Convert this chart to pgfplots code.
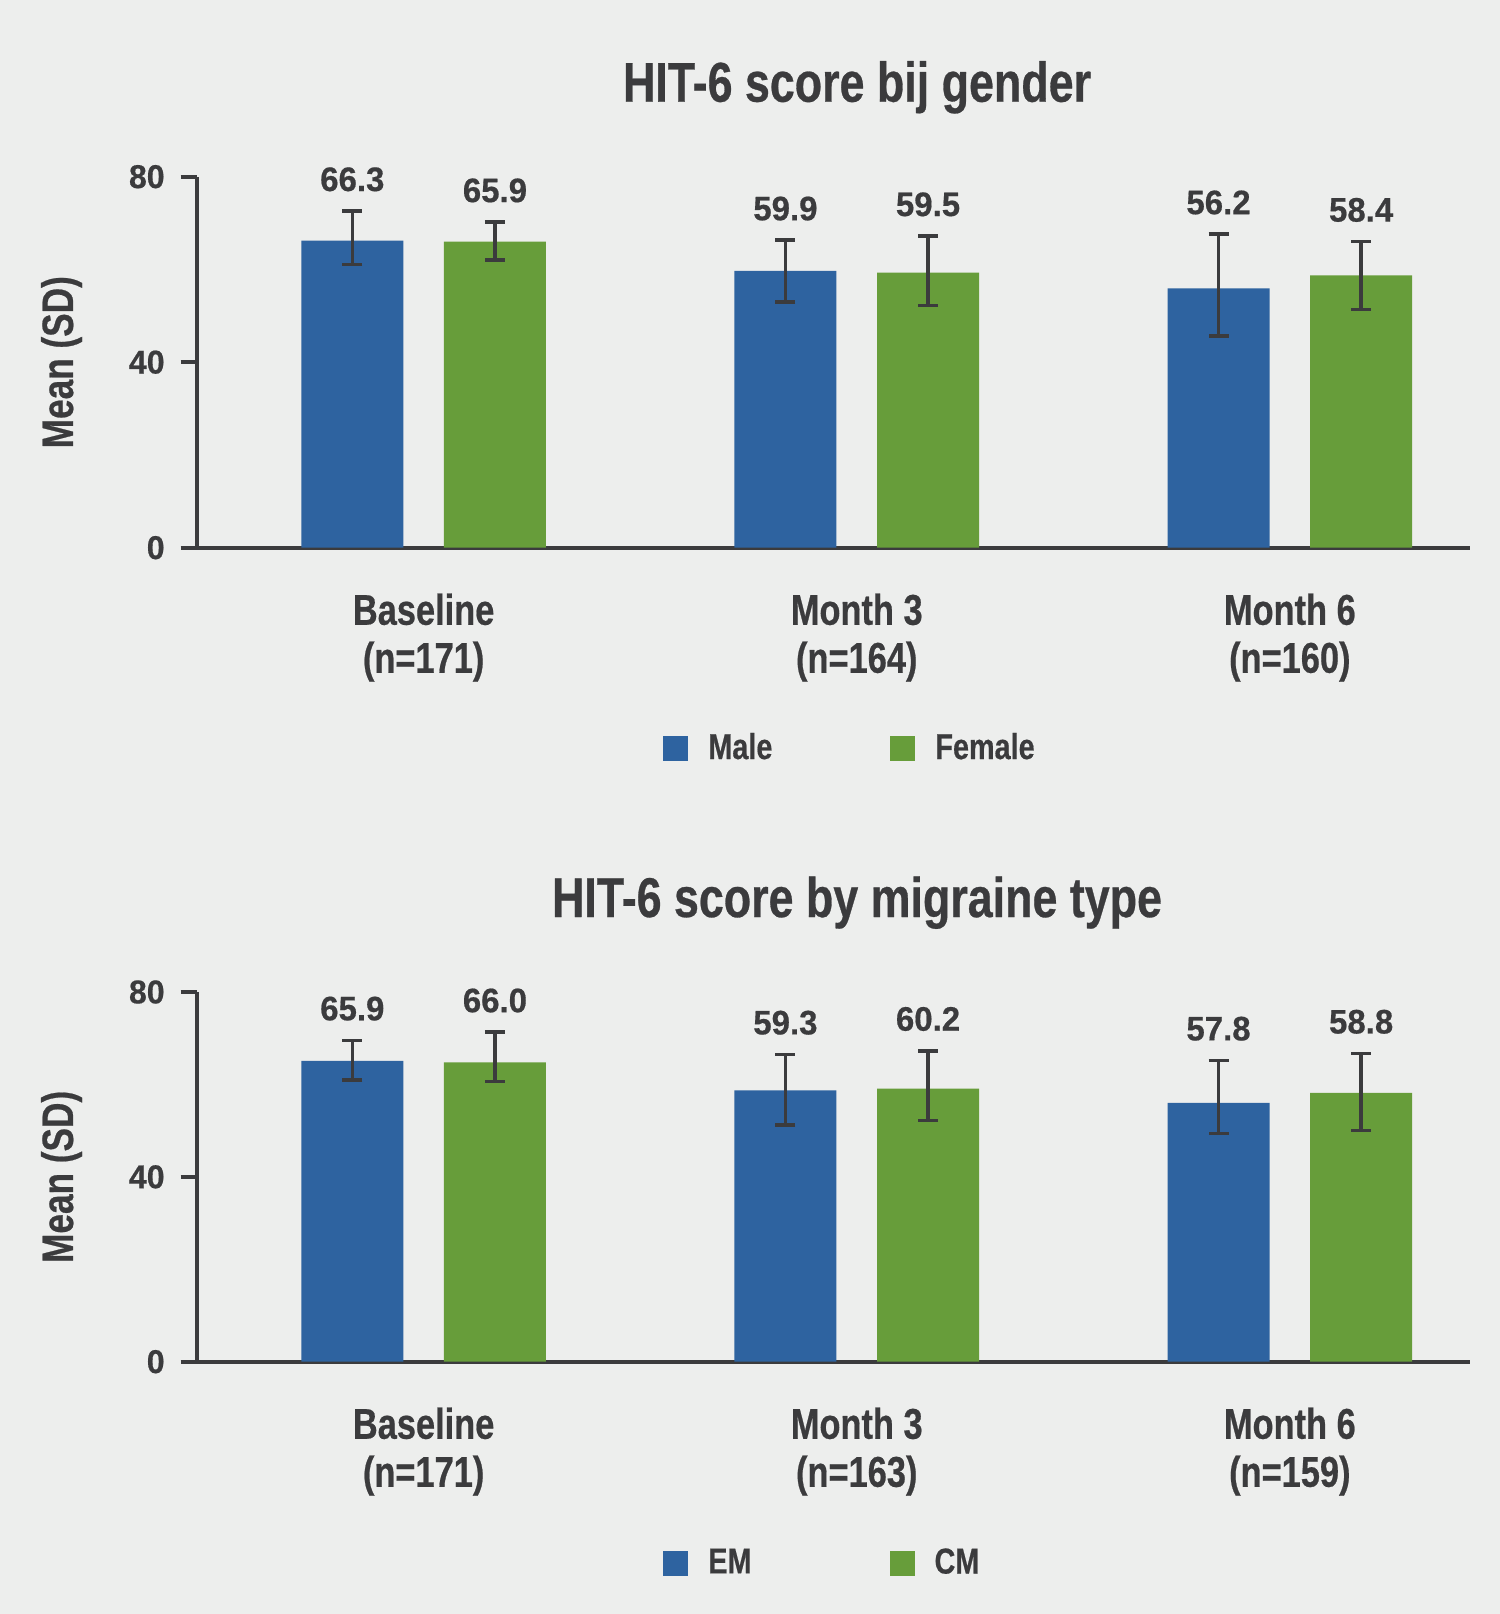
\documentclass[border=0pt]{standalone}
\usepackage{fontspec}
\setmainfont{Liberation Sans}[FakeStretch=0.8, BoldFeatures={FakeBold=0.5}]
\newfontfamily\numfont{Liberation Sans}[FakeStretch=0.97, BoldFeatures={FakeBold=0.5}]
\usepackage{pgfplots}
\usepackage{pgfplotstable}
\pgfplotsset{compat=1.18}
\definecolor{bg}{RGB}{237,238,237}
\definecolor{dark}{RGB}{59,59,61}
\definecolor{cblue}{RGB}{46,99,160}
\definecolor{cgreen}{RGB}{103,157,58}

\pgfplotstableread{
x m mp mm lab
0 66.2 6.4 5.1 66.3
1 59.7 6.6 6.7 59.9
2 55.9 11.7 10.3 56.2
}\topA
\pgfplotstableread{
x m mp mm lab
0 66.0 4.2 4.0 65.9
1 59.3 7.9 7.1 59.5
2 58.7 7.3 7.3 58.4
}\topB
\pgfplotstableread{
x m mp mm lab
0 65.1 4.45 4.2 65.9
1 58.7 7.8 7.5 59.3
2 56.0 9.2 6.6 57.8
}\botA
\pgfplotstableread{
x m mp mm lab
0 64.8 6.5 4.2 66.0
1 59.1 8.2 6.9 60.2
2 58.2 8.5 8.2 58.8
}\botB

\pgfplotsset{
  hitaxis/.style={
    scale only axis, width=636.65pt,
    xmin=-0.524, xmax=2.416, ymin=0, ymax=80,
    clip=false,
    axis x line*=bottom, axis y line*=left,
    axis line style={-, line width=2pt, draw=dark},
    ytick={0,40,80}, xtick={0,1,2},
    tick align=outside,
    major tick length=8pt,
    xtick style={draw=none},
    ytick style={line width=2pt, draw=dark},
    /pgf/number format/assume math mode=true,
    yticklabel style={font=\numfont\bfseries\fontsize{16.5}{16.5}\selectfont, text=dark, inner sep=0pt, xshift=-7.85pt},
    xticklabel style={font=\bfseries\fontsize{21.5}{24}\selectfont, text=dark, align=center, inner sep=0pt, yshift=-14.75pt},
    title style={at={(0.5186,1)}, anchor=base, yshift=31.5pt, font=\bfseries\fontsize{28}{30}\selectfont, text=dark, inner sep=0pt},
    ylabel style={at={(-0.09715,0.5)}, anchor=base, inner sep=0pt, font=\bfseries\fontsize{22}{24}\selectfont, text=dark},
    ylabel={Mean (SD)},
    legend columns=2,
  },
  barA/.style={ybar, bar width=51pt, bar shift=0pt, fill=cblue, draw=none,
    legend image code/.code={\fill[cblue] (0pt,-6.75pt) rectangle (12.5pt,5.75pt);}},
  barB/.style={ybar, bar width=51pt, bar shift=0pt, fill=cgreen, draw=none,
    legend image code/.code={\fill[cgreen] (0pt,-6.75pt) rectangle (12.5pt,5.75pt);}},
  errs/.style={forget plot, draw=none, mark=none,
    error bars/.cd, y dir=both, y explicit,
    error bar style={line width=1.8pt, draw=dark, solid},
    error mark=-,
    error mark options={rotate=90, line width=1.8pt, draw=dark, solid, mark size=5pt}},
  lab/.style={draw=none, forget plot, nodes near coords, point meta=explicit symbolic,
    nodes near coords style={anchor=base, inner sep=0pt, yshift=10pt, font=\numfont\bfseries\fontsize{17}{17}\selectfont, text=dark}},
}

\begin{document}
\begin{tikzpicture}
\fill[bg] (0pt,0pt) rectangle (750pt,807pt);
\useasboundingbox (0pt,0pt) rectangle (750pt,807pt);

\begin{axis}[hitaxis, height=185.5pt,
  at={(98.35pt,533.15pt)}, anchor=south west,
  title={HIT-6 score bij gender},
  xticklabels={{Baseline\\(n=171)},{Month 3\\(n=164)},{Month 6\\(n=160)}},
  legend style={at={(0.3662,-0.5386)}, anchor=west, draw=none, fill=none, inner sep=0pt,
    font=\bfseries\fontsize{18}{20}\selectfont, text=dark,
    nodes={inner sep=0pt},
    /tikz/every odd column/.append style={column sep=10pt},
    /tikz/every even column/.append style={column sep=59pt}},
]
\addplot[barA] table[x expr=\thisrow{x}-0.16467, y=m] {\topA};
\addplot[barB] table[x expr=\thisrow{x}+0.16467, y=m] {\topB};
\addplot[errs] table[x expr=\thisrow{x}-0.16467, y=m, y error plus=mp, y error minus=mm] {\topA};
\addplot[errs] table[x expr=\thisrow{x}+0.16467, y=m, y error plus=mp, y error minus=mm] {\topB};
\addplot[lab] table[x expr=\thisrow{x}-0.16467, y expr=\thisrow{m}+\thisrow{mp}, meta=lab] {\topA};
\addplot[lab] table[x expr=\thisrow{x}+0.16467, y expr=\thisrow{m}+\thisrow{mp}, meta=lab] {\topB};
\legend{Male,Female}
\end{axis}

\begin{axis}[hitaxis, height=184.85pt,
  at={(98.35pt,126.15pt)}, anchor=south west,
  title={HIT-6 score by migraine type},
  xticklabels={{Baseline\\(n=171)},{Month 3\\(n=163)},{Month 6\\(n=159)}},
  legend style={at={(0.3662,-0.5431)}, anchor=west, draw=none, fill=none, inner sep=0pt,
    font=\bfseries\fontsize{18}{20}\selectfont, text=dark,
    nodes={inner sep=0pt},
    /tikz/every odd column/.append style={column sep=10pt},
    /tikz/every even column/.append style={column sep=69pt}},
]
\addplot[barA] table[x expr=\thisrow{x}-0.16467, y=m] {\botA};
\addplot[barB] table[x expr=\thisrow{x}+0.16467, y=m] {\botB};
\addplot[errs] table[x expr=\thisrow{x}-0.16467, y=m, y error plus=mp, y error minus=mm] {\botA};
\addplot[errs] table[x expr=\thisrow{x}+0.16467, y=m, y error plus=mp, y error minus=mm] {\botB};
\addplot[lab] table[x expr=\thisrow{x}-0.16467, y expr=\thisrow{m}+\thisrow{mp}, meta=lab] {\botA};
\addplot[lab] table[x expr=\thisrow{x}+0.16467, y expr=\thisrow{m}+\thisrow{mp}, meta=lab] {\botB};
\legend{EM,CM}
\end{axis}
\end{tikzpicture}
\end{document}
